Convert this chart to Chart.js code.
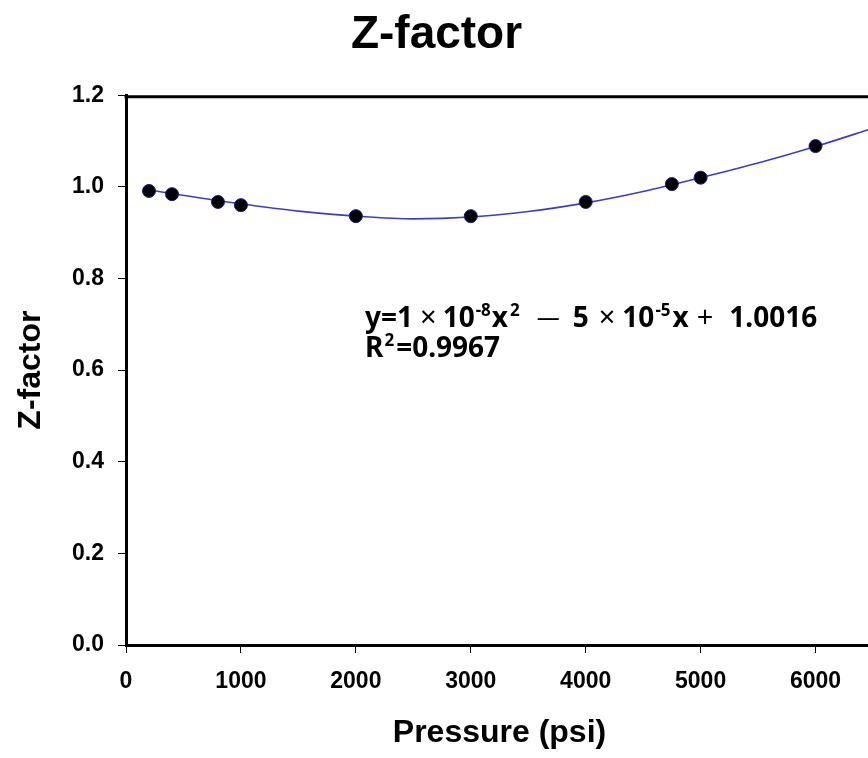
<!DOCTYPE html>
<html>
<head>
<meta charset="utf-8">
<script src="https://cdn.jsdelivr.net/npm/chart.js@4.4.0/dist/chart.umd.min.js"></script>
<style>
  html, body { margin: 0; padding: 0; background: #fff; overflow: hidden; }
  canvas { display: block; }
</style>
</head>
<body>
<canvas id="chartz" width="996" height="758"></canvas>
<script>
// measured points
const pressure = [200, 400, 800, 1000, 2000, 3000, 4000, 4750, 5000, 6000]
const zfactor = [0.991, 0.984, 0.967, 0.960, 0.936, 0.936, 0.967, 1.006, 1.020, 1.089]
// polynomial trend line
const trendPressure = [200, 1000, 1500, 2000, 2500, 3000, 3500, 4000, 4500, 5000, 5500, 6000, 6500]
const trendZ = [0.993, 0.963, 0.947, 0.936, 0.930, 0.934, 0.946, 0.965, 0.990, 1.020, 1.052, 1.088, 1.128]
const xTicks = [0, 1000, 2000, 3000, 4000, 5000, 6000]
const yTicks = [0, 0.2, 0.4, 0.6, 0.8, 1.0, 1.2]
// equation label pieces: [text, kind, gap after]  n normal, s superscript, m math sign, d dash
const eqLine1 = [['y=1', 'n', 7], ['\u00d7', 'm', 6], ['10', 'n', 1], ['-8', 's', 1], ['x', 'n', 2], ['2', 's', 17],
  ['\u2014', 'd', 13], ['5', 'n', 10], ['\u00d7', 'm', 7], ['10', 'n', 1], ['-5', 's', 2], ['x', 'n', 8], ['+', 'm', 16], ['1.0016', 'n', 0]]
const eqLine2 = [['R', 'n', 1], ['2', 's', 2], ['=0.9967', 'n', 0]]
const eqAnchor = { x: 2080, y: 0.695 }

const axisFont = { family: 'Liberation Sans, Arial, sans-serif', size: 23, weight: 'bold' }
const titleFont = { family: 'Liberation Sans, Arial, sans-serif', size: 32, weight: 'bold' }

const framePlugin = {
  id: 'frame',
  beforeDatasetsDraw(chart) {
    const { ctx, chartArea } = chart
    ctx.save()
    ctx.strokeStyle = '#000'
    ctx.lineWidth = 3
    ctx.beginPath()
    ctx.moveTo(chartArea.left - 1.5, chartArea.top + 1.5)
    ctx.lineTo(chartArea.right, chartArea.top + 1.5)
    ctx.lineTo(chartArea.right, chartArea.bottom)
    ctx.stroke()
    ctx.restore()
  }
}

const fonts = {
  n: 'bold 28px "Noto Sans", sans-serif',
  s: 'bold 17px "Noto Sans", sans-serif',
  m: '29px "Noto Sans", sans-serif',
  d: '23px "Noto Sans", sans-serif'
}
const lift = { n: 0, s: 11, m: 0, d: 2 }

const equationPlugin = {
  id: 'equation',
  afterDraw(chart) {
    const ctx = chart.ctx
    const x0 = chart.scales.x.getPixelForValue(eqAnchor.x)
    const y0 = chart.scales.y.getPixelForValue(eqAnchor.y)
    ctx.save()
    ctx.fillStyle = '#000'
    ctx.textBaseline = 'alphabetic'
    const drawLine = (parts, baseY) => {
      let x = x0
      parts.forEach(([t, kind, gap]) => {
        ctx.font = fonts[kind]
        ctx.fillText(t, x, baseY - lift[kind])
        x += ctx.measureText(t).width + gap
      })
    }
    drawLine(eqLine1, y0)
    drawLine(eqLine2, y0 + 30)
    ctx.restore()
  }
}

const ctx = document.getElementById('chartz')
const chartz = new Chart(ctx, {
  type: 'scatter',
  data: {
    datasets: [{
      label: 'Z-factor',
      data: pressure.map((p, i) => ({ x: p, y: zfactor[i] })),
      backgroundColor: '#000',
      borderColor: '#1a1a90',
      borderWidth: 1,
      pointRadius: 6.5,
      showLine: false
    }, {
      label: 'trend',
      data: trendPressure.map((p, i) => ({ x: p, y: trendZ[i] })),
      borderColor: '#3b3bd0',
      borderWidth: 1.6,
      pointRadius: 0,
      showLine: true,
      cubicInterpolationMode: 'monotone'
    }]
  },
  options: {
    responsive: false,
    animation: false,
    layout: { padding: { left: 0, right: 123, top: 0, bottom: 0 } },
    plugins: {
      legend: { display: false },
      tooltip: { enabled: false },
      title: {
        display: true,
        text: 'Z-factor',
        color: '#000',
        font: { family: 'Liberation Sans, Arial, sans-serif', size: 46, weight: 'bold' },
        padding: { top: 8, bottom: 32 }
      }
    },
    scales: {
      x: {
        type: 'linear',
        min: 0,
        max: 6500,
        afterBuildTicks: s => { s.ticks = xTicks.map(v => ({ value: v })) },
        afterFit: s => { s.height = 113 },
        ticks: { color: '#000', font: axisFont, padding: 15, maxRotation: 0, callback: v => String(v) },
        grid: { display: true, drawOnChartArea: false, drawTicks: true, tickLength: 8, color: '#000', lineWidth: 1 },
        border: { display: true, color: '#000', width: 3 },
        title: { display: true, text: 'Pressure (psi)', color: '#000', font: titleFont, padding: { top: 0, bottom: 6 } }
      },
      y: {
        min: 0,
        max: 1.2,
        afterBuildTicks: s => { s.ticks = yTicks.map(v => ({ value: v })) },
        afterFit: s => { s.width = 126 },
        ticks: { color: '#000', font: axisFont, padding: 14, callback: v => v.toFixed(1) },
        grid: { display: true, drawOnChartArea: false, drawTicks: true, tickLength: 8, color: '#000', lineWidth: 1 },
        border: { display: true, color: '#000', width: 3 },
        title: { display: true, text: 'Z-factor', color: '#000', font: titleFont, padding: { top: 12, bottom: 0 } }
      }
    }
  },
  plugins: [framePlugin, equationPlugin]
})
</script>
</body>
</html>
